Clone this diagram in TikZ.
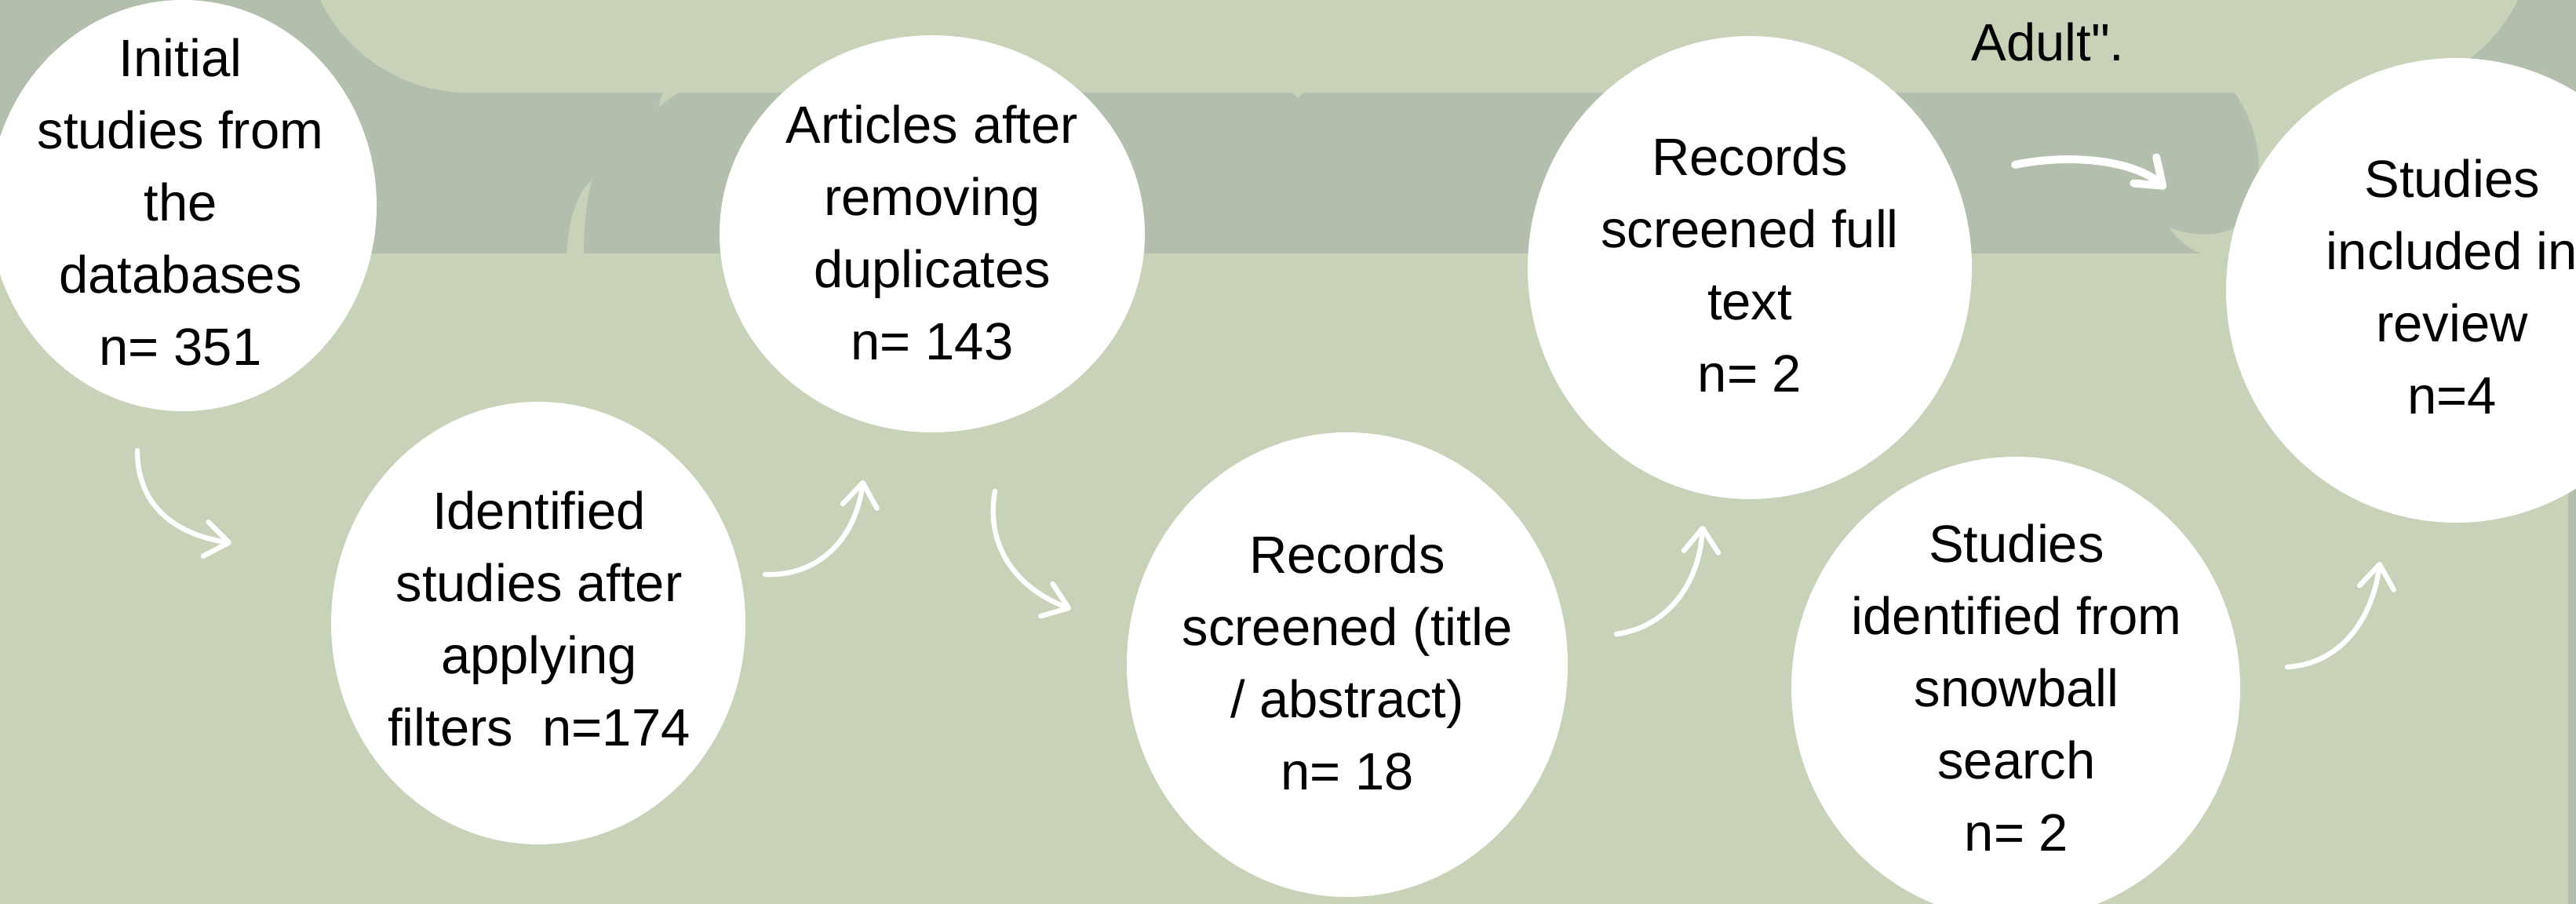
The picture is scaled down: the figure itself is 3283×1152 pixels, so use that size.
\documentclass[tikz,border=0pt]{standalone}
\usepackage{fontspec}
\setmainfont{Liberation Sans}
\newfontfamily\plainsans{Liberation Sans}
\usetikzlibrary{arrows.meta}
\definecolor{bglight}{RGB}{199,210,184}
\definecolor{bgdark}{RGB}{179,191,172}
\newcommand{\tstrut}{\rule[-0.25em]{0pt}{1em}}
\begin{document}
\begin{tikzpicture}[x=0.25pt,y=-0.25pt,
  txt/.style={inner sep=0pt, align=center, text=black,
    font=\plainsans\fontsize{16.75pt}{23pt}\selectfont},
  flow/.style={draw=white, line width=1.6pt, line cap=round, line join=round,
    -{Straight Barb[length=7.5pt,width=11pt,round]}},
  flowthick/.style={flow, line width=2.5pt},
  bubble/.style={fill=white}]
\useasboundingbox (0,0) rectangle (3283,1152);
\begin{scope}
\clip (0,0) rectangle (3283,1152);
% background
\fill[bglight] (0,0) rectangle (3283,1152);
\fill[bgdark] (0,0) rectangle (3283,323);
\fill[bgdark] (3273,0) rectangle (3283,1152);
% top box
\fill[bglight, rounded corners=52.5pt] (387,-300) rectangle (3230,118);
% decorative slivers
\fill[bglight] (722,323) .. controls (725,280) and (735,245) .. (754,230)
  .. controls (747,260) and (744,290) .. (744,323) -- cycle;
\fill[bglight] (846,117) -- (866,117) .. controls (856,124) and (846,130) .. (839,138)
  .. controls (840,130) and (843,124) .. cycle;
\fill[bglight] (1646,117) -- (1662,117) -- (1654,125) -- cycle;
\fill[bglight] (2847,117) .. controls (2885,170) and (2890,240) .. (2855,285)
  .. controls (2830,305) and (2790,300) .. (2764,290)
  .. controls (2775,305) and (2790,318) .. (2809,324) -- (3273,324) -- (3273,117) -- cycle;
% bubbles
\fill[bubble] (233,262) ellipse [x radius=247, y radius=262];
\fill[bubble] (686,794) ellipse [x radius=264, y radius=282];
\fill[bubble] (1188,298) ellipse [x radius=271, y radius=253];
\fill[bubble] (1717,847) ellipse [x radius=281, y radius=296];
\fill[bubble] (2230,341) ellipse [x radius=283, y radius=295];
\fill[bubble] (3130,370) ellipse [x radius=293, y radius=296];
\fill[bubble] (2569,877) ellipse [x radius=286, y radius=295];
% texts
\node[txt, anchor=base] (adult) at (2610,78) {Adult".};
\node[txt] (n1) at (230,265) {\tstrut Initial\\studies from\\the\\databases\\n= 351\tstrut};
\node[txt] (n2) at (687,796) {\tstrut Identified\\studies after\\applying\\filters~~n=174\tstrut};
\node[txt] (n3) at (1188,304) {\tstrut Articles after\\removing\\duplicates\\n= 143\tstrut};
\node[txt] (n4) at (1717,852) {\tstrut Records\\screened (title\\/ abstract)\\n= 18\tstrut};
\node[txt] (n5) at (2230,345) {\tstrut Records\\screened full\\text\\n= 2\tstrut};
\node[txt] (n6) at (3125,373) {\tstrut Studies\\included in\\review\\n=4\tstrut};
\node[txt] (n7) at (2570,884) {\tstrut Studies\\identified from\\snowball\\search\\n= 2\tstrut};
% arrows
\coordinate (a1s) at (175,574); \coordinate (a1e) at (295,692);
\coordinate (a2s) at (975,732); \coordinate (a2e) at (1100,612);
\coordinate (a3s) at (1268,626); \coordinate (a3e) at (1365,776);
\coordinate (a4s) at (2060,808); \coordinate (a4e) at (2170,670);
\coordinate (a5s) at (2568,210); \coordinate (a5e) at (2760,240);
\coordinate (a6s) at (2915,850); \coordinate (a6e) at (3033,716);
\draw[flow] (a1s) .. controls (175,650) and (230,682) .. (a1e);
\draw[flow] (a2s) .. controls (1040,735) and (1090,690) .. (a2e);
\draw[flow] (a3s) .. controls (1255,700) and (1300,752) .. (a3e);
\draw[flow] (a4s) .. controls (2120,800) and (2165,750) .. (a4e);
\draw[flowthick] (a5s) .. controls (2640,195) and (2720,205) .. (a5e);
\draw[flow] (a6s) .. controls (2990,845) and (3025,780) .. (a6e);
\end{scope}
\end{tikzpicture}
\end{document}
